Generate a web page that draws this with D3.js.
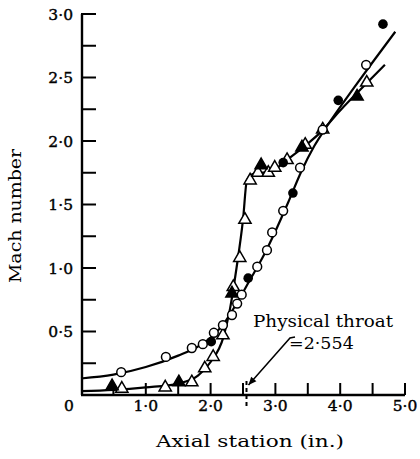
<!DOCTYPE html>
<html><head><meta charset="utf-8">
<script src="https://cdn.jsdelivr.net/npm/d3@7"></script>
<style>body{margin:0;background:#fff}svg{display:block}text{font-family:"DejaVu Serif",serif;fill:#000}</style>
</head><body>
<svg id="c" width="420" height="459"></svg>
<script>
// Data
const xTicks = [0, 1, 2, 3, 4, 5];
const xTickLabels = ["0", "1·0", "2·0", "3·0", "4·0", "5·0"];
const yTicks = [0.5, 1, 1.5, 2, 2.5, 3];
const yTickLabels = ["0·5", "1·0", "1·5", "2·0", "2·5", "3·0"];
const throatX = 2.554;

const openCircles = [[0.62,0.18],[1.31,0.30],[1.71,0.37],[1.88,0.40],[2.05,0.49],[2.19,0.55],[2.33,0.63],[2.41,0.72],[2.48,0.79],[2.72,1.01],[2.87,1.14],[2.95,1.28],[3.12,1.45],[3.38,1.79],[3.73,2.09],[4.40,2.60]];
const filledCircles = [[2.01,0.42],[2.58,0.92],[3.27,1.59],[3.12,1.83],[3.97,2.32],[4.66,2.92]];
const openTriangles = [[0.63,0.05],[1.30,0.06],[1.71,0.10],[1.91,0.21],[2.04,0.30],[2.19,0.47],[2.35,0.85],[2.45,1.08],[2.53,1.38],[2.61,1.69],[2.73,1.75],[2.89,1.75],[2.99,1.79],[3.18,1.85],[3.46,1.97],[3.73,2.09],[4.41,2.46]];
const filledTriangles = [[0.48,0.07],[1.51,0.10],[2.33,0.80],[2.78,1.81],[3.41,1.95],[4.26,2.35]];

const circleCurve = [[0,0.13],[0.5,0.16],[1.0,0.22],[1.5,0.31],[1.8,0.38],[2.0,0.45],[2.2,0.56],[2.4,0.72],[2.6,0.90],[2.8,1.08],[3.0,1.29],[3.2,1.52],[3.4,1.76],[3.6,1.96],[3.8,2.12],[4.2,2.41],[4.5,2.62],[4.85,2.86]];
const triangleCurve = [[0,0.03],[0.5,0.04],[1.0,0.06],[1.5,0.09],[1.8,0.15],[2.0,0.26],[2.2,0.46],[2.3,0.68],[2.4,1.00],[2.5,1.38],[2.56,1.69],[2.65,1.74],[2.9,1.76],[3.0,1.78],[3.2,1.86],[3.5,1.98],[3.7,2.07],[4.0,2.24],[4.4,2.45],[4.69,2.60]];

const svg = d3.select("#c");
const x = d3.scaleLinear().domain([0,5]).range([81,405]);
const y = d3.scaleLinear().domain([0,3]).range([395,14]);

// axes lines
svg.append("line").attr("x1",x(0)).attr("x2",x(5)).attr("y1",y(0)).attr("y2",y(0)).attr("stroke","#000").attr("stroke-width",2.4);
svg.append("line").attr("x1",x(0)+1).attr("x2",x(0)+1).attr("y1",y(0)).attr("y2",y(3)).attr("stroke","#000").attr("stroke-width",2.4);

// x ticks (inward, every 0.5)
const xt = d3.range(1,11).map(d=>d/2);
svg.selectAll(".xt").data(xt).enter().append("line")
  .attr("x1",d=>x(d)).attr("x2",d=>x(d)).attr("y1",y(0)).attr("y2",y(0)-12)
  .attr("stroke","#000").attr("stroke-width",2);
// y ticks (inward, every 0.25)
const yt = d3.range(1,13).map(d=>d/4);
svg.selectAll(".yt").data(yt).enter().append("line")
  .attr("x1",x(0)).attr("x2",x(0)+15).attr("y1",d=>y(d)).attr("y2",d=>y(d))
  .attr("stroke","#000").attr("stroke-width",2);

// tick labels
svg.selectAll(".xl").data(xTicks).enter().append("text")
  .attr("x",(d,i)=>i===0?x(d)-12:x(d)).attr("y",411).attr("text-anchor","middle")
  .attr("font-size",15.5).attr("stroke","#000").attr("stroke-width",0.4).text((d,i)=>xTickLabels[i]);
svg.selectAll(".yl").data(yTicks).enter().append("text")
  .attr("x",73).attr("y",d=>y(d)+5.5).attr("text-anchor","end")
  .attr("font-size",15.5).attr("stroke","#000").attr("stroke-width",0.4).text((d,i)=>yTickLabels[i]);

// axis titles
svg.append("text").attr("x",250).attr("y",447).attr("text-anchor","middle")
  .attr("font-size",17.5).attr("textLength",188).attr("lengthAdjust","spacingAndGlyphs").text("Axial station (in.)");
svg.append("text").attr("transform","translate(21,216) rotate(-90)").attr("text-anchor","middle")
  .attr("font-size",17.5).attr("textLength",134).attr("lengthAdjust","spacingAndGlyphs").text("Mach number");

// throat dashed line
svg.append("line").attr("x1",x(throatX)).attr("x2",x(throatX)).attr("y1",y(0)-14).attr("y2",y(0)+14)
  .attr("stroke","#000").attr("stroke-width",2).attr("stroke-dasharray","4,3");

// curves
const line = d3.line().x(d=>x(d[0])).y(d=>y(d[1])).curve(d3.curveMonotoneX);
svg.append("path").attr("d",line(circleCurve)).attr("fill","none").attr("stroke","#000").attr("stroke-width",2.2);
svg.append("path").attr("d",line(triangleCurve)).attr("fill","none").attr("stroke","#000").attr("stroke-width",2.2);

// markers
const tri = d3.symbol().type(d3.symbolTriangle).size(65);
svg.selectAll(".ot").data(openTriangles).enter().append("path").attr("d",tri)
  .attr("transform",d=>`translate(${x(d[0])},${y(d[1])})`).attr("fill","#fff").attr("stroke","#000").attr("stroke-width",1.5);
svg.selectAll(".ft").data(filledTriangles).enter().append("path").attr("d",tri)
  .attr("transform",d=>`translate(${x(d[0])},${y(d[1])})`).attr("fill","#000").attr("stroke","#000").attr("stroke-width",1.5);
svg.selectAll(".oc").data(openCircles).enter().append("circle")
  .attr("cx",d=>x(d[0])).attr("cy",d=>y(d[1])).attr("r",4.4).attr("fill","#fff").attr("stroke","#000").attr("stroke-width",1.5);
svg.selectAll(".fc").data(filledCircles).enter().append("circle")
  .attr("cx",d=>x(d[0])).attr("cy",d=>y(d[1])).attr("r",4.8).attr("fill","#000");

// annotation
svg.append("text").attr("x",253).attr("y",327).attr("font-size",17.5).attr("textLength",140).attr("lengthAdjust","spacingAndGlyphs").text("Physical throat");
svg.append("text").attr("x",289).attr("y",349).attr("font-size",17.5).text("=2·554");
// arrow
const ax0 = 290, ay0 = 338, ax1 = x(throatX)+2, ay1 = 385;
svg.append("path").attr("d",`M${ax0+5},${ay0-1}L${ax0},${ay0}L${ax1},${ay1}`).attr("fill","none").attr("stroke","#000").attr("stroke-width",1.5);
const ang = Math.atan2(ay1-ay0, ax1-ax0);
const hl = 8, hw = 3.5;
const bx = ax1 - hl*Math.cos(ang), by = ay1 - hl*Math.sin(ang);
svg.append("path").attr("d",`M${ax1},${ay1}L${bx - hw*Math.sin(ang)},${by + hw*Math.cos(ang)}L${bx + hw*Math.sin(ang)},${by - hw*Math.cos(ang)}Z`).attr("fill","#000");
</script>
</body></html>
